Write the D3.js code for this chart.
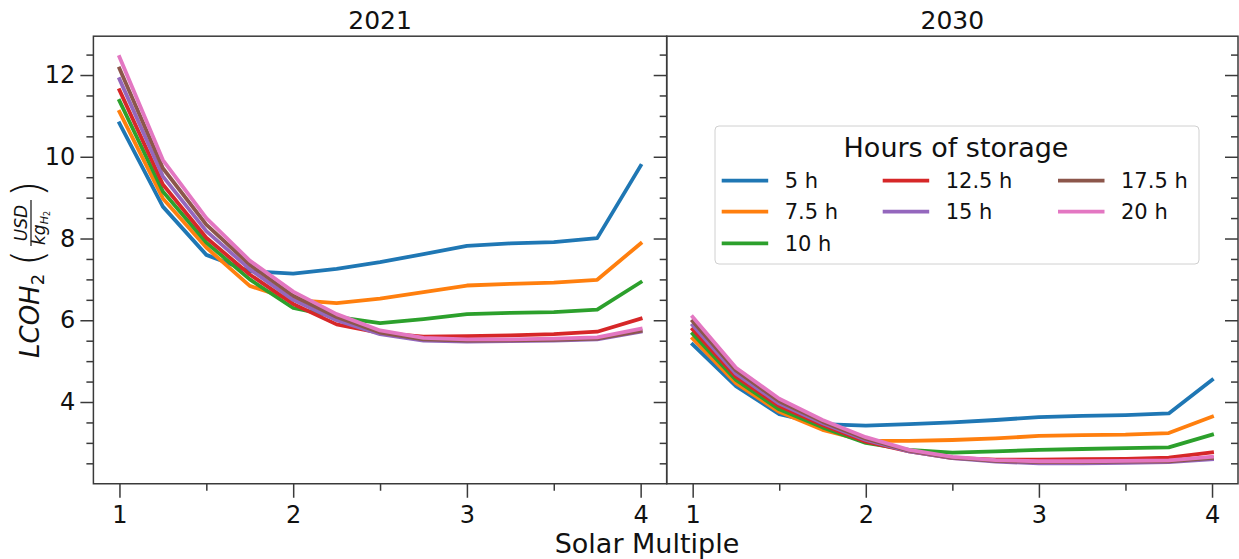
<!DOCTYPE html>
<html>
<head>
<meta charset="utf-8">
<script src="https://cdn.jsdelivr.net/npm/d3@7"></script>
<style>
  html, body { margin: 0; padding: 0; background: #fff; }
  svg { display: block; font-family: "DejaVu Sans", sans-serif; }
</style>
</head>
<body>
<svg id="chart" width="1239" height="559"></svg>
<script>
// Solar multiple sampled on both panels
const solarMultiple = [1, 1.25, 1.5, 1.75, 2, 2.25, 2.5, 2.75, 3, 3.25, 3.5, 3.75, 4];

// Storage durations (legend labels) and their colours
const storageLabels = ["5 h", "7.5 h", "10 h", "12.5 h", "15 h", "17.5 h", "20 h"];
const storageColors = ["#1f77b4", "#ff7f0e", "#2ca02c", "#d62728", "#9467bd", "#8c564b", "#e377c2"];

// LCOH2 (USD/kg) for 2021, one array per storage duration
const lcoh2021_5h    = [10.82, 8.78, 7.60, 7.20, 7.14, 7.26, 7.42, 7.62, 7.82, 7.88, 7.91, 8.01, 9.78];
const lcoh2021_7_5h  = [11.10, 8.98, 7.78, 6.84, 6.50, 6.42, 6.53, 6.69, 6.85, 6.89, 6.92, 6.99, 7.88];
const lcoh2021_10h   = [11.37, 9.15, 7.90, 7.00, 6.30, 6.08, 5.93, 6.03, 6.15, 6.18, 6.20, 6.26, 6.93];
const lcoh2021_12_5h = [11.63, 9.32, 8.02, 7.12, 6.40, 5.90, 5.69, 5.60, 5.61, 5.63, 5.66, 5.72, 6.04];
const lcoh2021_15h   = [11.90, 9.52, 8.18, 7.25, 6.50, 6.00, 5.66, 5.50, 5.48, 5.49, 5.50, 5.53, 5.72];
const lcoh2021_17_5h = [12.16, 9.72, 8.34, 7.36, 6.60, 6.08, 5.70, 5.53, 5.50, 5.51, 5.52, 5.55, 5.74];
const lcoh2021_20h   = [12.44, 9.92, 8.50, 7.46, 6.70, 6.15, 5.75, 5.57, 5.53, 5.53, 5.55, 5.58, 5.79];

// LCOH2 (USD/kg) for 2030
const lcoh2030_5h    = [5.41, 4.39, 3.70, 3.46, 3.42, 3.46, 3.50, 3.56, 3.63, 3.66, 3.68, 3.72, 4.54];
const lcoh2030_7_5h  = [5.55, 4.46, 3.76, 3.32, 3.05, 3.05, 3.07, 3.11, 3.17, 3.19, 3.20, 3.24, 3.64];
const lcoh2030_10h   = [5.67, 4.54, 3.82, 3.38, 3.00, 2.83, 2.76, 2.79, 2.83, 2.85, 2.87, 2.89, 3.20];
const lcoh2030_12_5h = [5.78, 4.62, 3.90, 3.44, 3.03, 2.79, 2.63, 2.59, 2.59, 2.60, 2.61, 2.64, 2.77];
const lcoh2030_15h   = [5.88, 4.69, 3.96, 3.48, 3.07, 2.79, 2.63, 2.54, 2.50, 2.50, 2.51, 2.53, 2.60];
const lcoh2030_17_5h = [5.98, 4.77, 4.02, 3.52, 3.10, 2.81, 2.64, 2.56, 2.53, 2.53, 2.54, 2.55, 2.63];
const lcoh2030_20h   = [6.08, 4.84, 4.08, 3.56, 3.14, 2.83, 2.66, 2.58, 2.55, 2.55, 2.56, 2.57, 2.66];

// Axis ticks
const xMajorTicks = [1, 2, 3, 4];
const xMinorTicks = [1.5, 2.5, 3.5];
const yMajorTicks = [4, 6, 8, 10, 12];
const yMinorTicks = [2.5, 3, 3.5, 4.5, 5, 5.5, 6.5, 7, 7.5, 8.5, 9, 9.5, 10.5, 11, 11.5, 12.5];

const panelTitles = ["2021", "2030"];
const panelSeries = [
  [lcoh2021_5h, lcoh2021_7_5h, lcoh2021_10h, lcoh2021_12_5h, lcoh2021_15h, lcoh2021_17_5h, lcoh2021_20h],
  [lcoh2030_5h, lcoh2030_7_5h, lcoh2030_10h, lcoh2030_12_5h, lcoh2030_15h, lcoh2030_17_5h, lcoh2030_20h]
];

const svg = d3.select("#chart");
const axisColor = "#3a3a3a";
const tickFont = 24;
const plotTop = 36.2, plotBottom = 483.75;
const panelX = [[93.4, 666.7], [666.7, 1238]];

const y = d3.scaleLinear().domain([2.0, 12.95]).range([plotBottom, plotTop]);

panelSeries.forEach((series, p) => {
  const [x0, x1] = panelX[p];
  const x = d3.scaleLinear().domain([0.85, 4.15]).range([x0, x1]);
  const g = svg.append("g");

  // data lines
  const line = d3.line().x((d, i) => x(solarMultiple[i])).y(d => y(d));
  series.forEach((vals, s) => {
    g.append("path")
      .datum(vals)
      .attr("d", line)
      .attr("fill", "none")
      .attr("stroke", storageColors[s])
      .attr("stroke-width", 3.8)
      .attr("stroke-linejoin", "round")
      .attr("stroke-linecap", "square");
  });

  // x axis: major + minor ticks
  const xMajor = d3.axisBottom(x).tickValues(xMajorTicks).tickSize(14).tickPadding(8).tickFormat(d3.format("d"));
  const xMinor = d3.axisBottom(x).tickValues(xMinorTicks).tickSize(7).tickFormat("");
  [xMajor, xMinor].forEach(ax => {
    const a = g.append("g").attr("transform", `translate(0,${plotBottom})`).call(ax);
    a.select(".domain").remove();
    a.selectAll("line").attr("stroke", axisColor).attr("stroke-width", 1.5);
    a.selectAll("text").attr("font-size", tickFont).attr("fill", "#111").attr("font-family", "DejaVu Sans");
  });

  // y ticks: outside with labels on the left panel, inside on the right edges
  if (p === 0) {
    const yMajor = d3.axisLeft(y).tickValues(yMajorTicks).tickSize(13).tickPadding(5).tickFormat(d3.format("d"));
    const yMinor = d3.axisLeft(y).tickValues(yMinorTicks).tickSize(7).tickFormat("");
    [yMajor, yMinor].forEach(ax => {
      const a = g.append("g").attr("transform", `translate(${x0},0)`).call(ax);
      a.select(".domain").remove();
      a.selectAll("line").attr("stroke", axisColor).attr("stroke-width", 1.5);
      a.selectAll("text").attr("font-size", tickFont).attr("fill", "#111").attr("font-family", "DejaVu Sans");
    });
  }
  const yMajorIn = d3.axisLeft(y).tickValues(yMajorTicks).tickSize(13).tickFormat("");
  const yMinorIn = d3.axisLeft(y).tickValues(yMinorTicks).tickSize(7).tickFormat("");
  [yMajorIn, yMinorIn].forEach(ax => {
    const a = g.append("g").attr("transform", `translate(${x1},0)`).call(ax);
    a.select(".domain").remove();
    a.selectAll("line").attr("stroke", axisColor).attr("stroke-width", 1.5);
  });

  // frame
  g.append("rect")
    .attr("x", x0).attr("y", plotTop)
    .attr("width", x1 - x0).attr("height", plotBottom - plotTop)
    .attr("fill", "none").attr("stroke", axisColor).attr("stroke-width", 1.5);

  // panel title
  g.append("text")
    .attr("x", (x0 + x1) / 2).attr("y", 29)
    .attr("text-anchor", "middle")
    .attr("font-size", 25).attr("fill", "#111")
    .text(panelTitles[p]);
});

// shared x label
svg.append("text")
  .attr("x", 647).attr("y", 553)
  .attr("text-anchor", "middle")
  .attr("font-size", 27).attr("fill", "#111")
  .text("Solar Multiple");

// y label: LCOH2 (USD / kg_H2), written along the rotated axis
const yl = svg.append("g").attr("transform", "translate(0,270) rotate(-90)").attr("fill", "#111");
const lcoh = yl.append("text").attr("x", -88).attr("y", 39).attr("font-size", 26).attr("font-style", "italic");
lcoh.append("tspan").text("LCOH");
lcoh.append("tspan").attr("font-size", 18).attr("font-style", "normal").attr("dy", 5).text("2");
yl.append("text").attr("x", 4).attr("y", 43).attr("font-size", 42).attr("font-weight", 200).text("(");
yl.append("text").attr("x", 47).attr("y", 27).attr("text-anchor", "middle")
  .attr("font-size", 17).attr("font-style", "italic").text("USD");
yl.append("line").attr("x1", 24).attr("x2", 70).attr("y1", 31).attr("y2", 31)
  .attr("stroke", "#111").attr("stroke-width", 1.2);
const kg = yl.append("text").attr("x", 25).attr("y", 45).attr("font-size", 17).attr("font-style", "italic");
kg.append("tspan").text("kg");
kg.append("tspan").attr("font-size", 11).attr("dy", 3).text("H");
kg.append("tspan").attr("font-size", 8).attr("font-style", "normal").attr("dy", 2).text("2");
yl.append("text").attr("x", 73).attr("y", 43).attr("font-size", 42).attr("font-weight", 200).text(")");

// legend
const lg = svg.append("g");
lg.append("rect")
  .attr("x", 715).attr("y", 126).attr("width", 484).attr("height", 138)
  .attr("rx", 4).attr("fill", "#fff").attr("fill-opacity", 0.8)
  .attr("stroke", "#d0d0d0").attr("stroke-width", 1);
lg.append("text")
  .attr("x", 956).attr("y", 156.5).attr("text-anchor", "middle")
  .attr("font-size", 27).attr("fill", "#111")
  .text("Hours of storage");

const legendCols = [[0, 1, 2], [3, 4], [5, 6]];
const colLineX = [721.7, 882.7, 1058];
const rowY = [180.7, 211.7, 243.3];
legendCols.forEach((col, c) => {
  col.forEach((idx, r) => {
    lg.append("line")
      .attr("x1", colLineX[c]).attr("x2", colLineX[c] + 46.5)
      .attr("y1", rowY[r]).attr("y2", rowY[r])
      .attr("stroke", storageColors[idx]).attr("stroke-width", 3.8);
    lg.append("text")
      .attr("x", colLineX[c] + 63).attr("y", rowY[r] + 7.5)
      .attr("font-size", 21).attr("fill", "#111")
      .text(storageLabels[idx]);
  });
});
</script>
</body>
</html>
